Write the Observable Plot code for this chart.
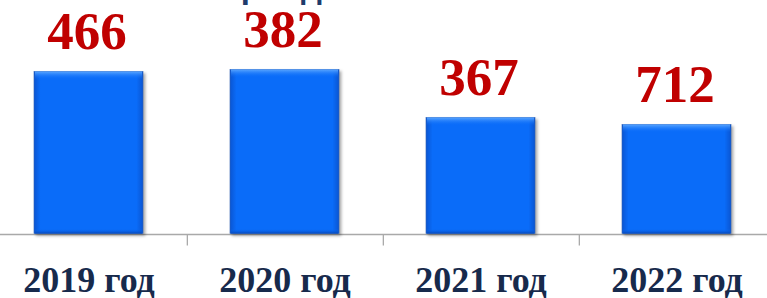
<!DOCTYPE html>
<html>
<head>
<meta charset="utf-8">
<script src="https://cdn.jsdelivr.net/npm/d3@7"></script>
<script src="https://cdn.jsdelivr.net/npm/@observablehq/plot@0.6"></script>
<style>
  html, body { margin: 0; padding: 0; background: #fff; overflow: hidden; }
  #chart svg { display: block; }
</style>
</head>
<body>
<div id="chart"></div>
<script>
// Data
const years = ["2019", "2020", "2021", "2022"];
const yearSuffix = " год";
const barValues = [162, 164, 116, 109];          // bar heights as drawn
const valueLabels = ["466", "382", "367", "712"]; // labels printed above bars
const titleText = "за период";

const data = years.map((y, i) => ({year: y, value: barValues[i], label: valueLabels[i]}));

const W = 767, H = 298;
const step = (776 + 10.7) / years.length;

const plot = Plot.plot({
  width: W,
  height: H,
  marginTop: 0, marginBottom: 0, marginLeft: 0, marginRight: 0,
  style: {background: "#fff", overflow: "hidden"},
  x: {domain: years, range: [-10.7, 776], paddingInner: 0.446, paddingOuter: 0.223, axis: null},
  y: {domain: [0, 200], range: [233.5, 33.5], axis: null},
  marks: [
    // axis line
    Plot.ruleY([0], {y: 0, stroke: "#a9a9a9", strokeWidth: 1.3, dy: 0.5}),
    // tick marks at band boundaries
    Plot.ruleX(years, {x: d => d, dx: step / 2, y1: 0, y2: -11.5, stroke: "#a9a9a9", strokeWidth: 1.3, dy: 0.5}),
    // bars
    Plot.barY(data, {x: "year", y: "value", fill: "url(#barGradH)", stroke: "#2f62b5", strokeWidth: 0.6}),
    // top bevel highlight
    Plot.barY(data, {x: "year", y1: "value", y2: "value", insetBottom: -8, insetLeft: 1, insetRight: 1, fill: "url(#barGradTop)"}),
    // bottom bevel shade
    Plot.barY(data, {x: "year", y1: 0, y2: 0, insetTop: -5, insetLeft: 1, insetRight: 1, fill: "url(#barGradBot)"}),
    // value labels
    Plot.text(data, {x: "year", y: "value", text: "label", dx: -2, dy: -23, lineAnchor: "bottom",
      fontFamily: "Liberation Serif, Times New Roman, serif", fontWeight: "bold", fontSize: 53, fill: "#c00000"}),
    // category labels
    Plot.text(years, {x: d => d, text: d => d + yearSuffix, frameAnchor: "bottom", dy: -7, lineAnchor: "bottom",
      fontFamily: "Liberation Serif, Times New Roman, serif", fontWeight: "bold", fontSize: 36, fill: "#172a4c"}),
    // partially visible title (cut off at the top edge)
    Plot.text([titleText], {frameAnchor: "top-left", dx: 240, dy: -3, textAnchor: "middle", lineAnchor: "bottom",
      fontFamily: "Liberation Sans, Arial, sans-serif", fontWeight: "bold", fontSize: 33, fill: "#1f3b6b"})
  ]
});

const svg = d3.select(plot);
const defs = svg.insert("defs", ":first-child");
const gH = defs.append("linearGradient").attr("id", "barGradH").attr("x1", 0).attr("x2", 1).attr("y1", 0).attr("y2", 0);
gH.append("stop").attr("offset", "0%").attr("stop-color", "#0a55d2");
gH.append("stop").attr("offset", "6%").attr("stop-color", "#0a6cf9");
gH.append("stop").attr("offset", "94%").attr("stop-color", "#0a6cf9");
gH.append("stop").attr("offset", "100%").attr("stop-color", "#0a55d2");
const gT = defs.append("linearGradient").attr("id", "barGradTop").attr("x1", 0).attr("x2", 0).attr("y1", 0).attr("y2", 1);
gT.append("stop").attr("offset", "0%").attr("stop-color", "#5aa6ff");
gT.append("stop").attr("offset", "100%").attr("stop-color", "#0a6cf9").attr("stop-opacity", 0);
const gB = defs.append("linearGradient").attr("id", "barGradBot").attr("x1", 0).attr("x2", 0).attr("y1", 0).attr("y2", 1);
gB.append("stop").attr("offset", "0%").attr("stop-color", "#0a6cf9").attr("stop-opacity", 0);
gB.append("stop").attr("offset", "100%").attr("stop-color", "#0848b8");

// soft drop shadow on the bars
svg.selectAll("g[aria-label='bar']").filter((d, i) => i === 0)
  .style("filter", "drop-shadow(2px 2px 1.5px rgba(0,0,0,0.35))");

document.getElementById("chart").appendChild(plot);
</script>
</body>
</html>
